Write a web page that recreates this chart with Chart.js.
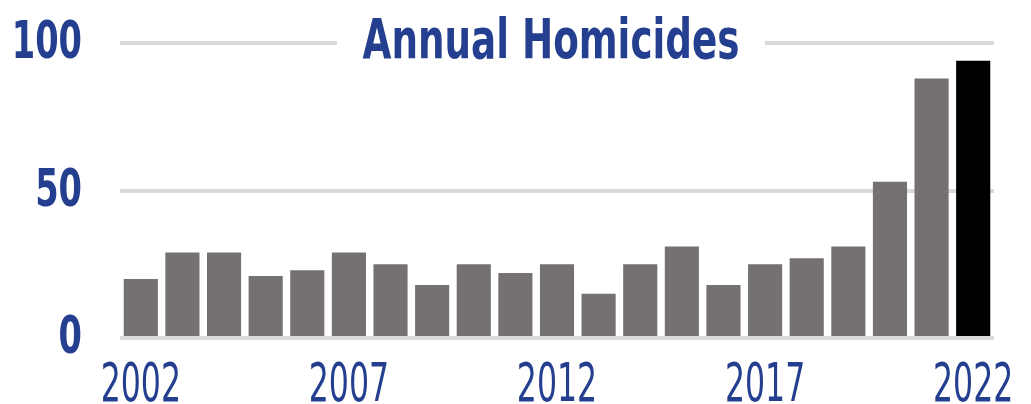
<!DOCTYPE html>
<html>
<head>
<meta charset="utf-8">
<script src="https://cdn.jsdelivr.net/npm/chart.js@4/dist/chart.umd.min.js"></script>
<style>
html,body{margin:0;padding:0;background:#fff;}
#wrap{width:1031px;height:404px;position:relative;}
</style>
</head>
<body>
<div id="wrap"><canvas id="c"></canvas></div>
<script>
const years = ["2002","2003","2004","2005","2006","2007","2008","2009","2010","2011","2012","2013","2014","2015","2016","2017","2018","2019","2020","2021","2022"];
const homicides = [20,29,29,21,23,29,25,18,25,22,25,15,25,31,18,25,27,31,53,88,94];
const yTicks = [0,50,100];
const xLabelEvery = 5;
const titleText = "Annual Homicides";

const BLUE = "#243f8f";
const CONDENSED = "'DejaVu Sans Condensed','DejaVu Sans',sans-serif";

const barColors = years.map((y,i)=> i===years.length-1 ? "#000000" : "#767171");

function drawNarrow(ctx, text, x, y, align, sx, font, color){
  ctx.save();
  ctx.font = font;
  ctx.fillStyle = color;
  ctx.textAlign = align;
  ctx.textBaseline = 'alphabetic';
  ctx.translate(x, y);
  ctx.scale(sx, 1);
  ctx.fillText(text, 0, 0);
  ctx.restore();
}

const labelPlugin = {
  id: 'narrowLabels',
  afterDraw(chart){
    const ctx = chart.ctx;
    const ca = chart.chartArea;
    const ys = chart.scales.y, xs = chart.scales.x;
    // y tick labels
    yTicks.forEach(v=>{
      const py = ys.getPixelForValue(v);
      drawNarrow(ctx, String(v), 82, py + 15, 'right', 0.72, "bold 52px " + CONDENSED, BLUE);
    });
    // x tick labels
    years.forEach((lab,i)=>{
      if (i % xLabelEvery !== 0) return;
      drawNarrow(ctx, lab, xs.getPixelForTick(i), 401, 'center', 0.65, "54px " + CONDENSED, BLUE);
    });
    // inline title over the top gridline
    const yTop = ys.getPixelForValue(100);
    ctx.save();
    ctx.fillStyle = "#ffffff";
    ctx.fillRect(337, yTop - 8, 428, 16);
    ctx.restore();
    drawNarrow(ctx, titleText, 551, 58, 'center', 0.74, "bold 56px " + CONDENSED, BLUE);
  }
};

new Chart(document.getElementById('c'), {
  type: 'bar',
  data: {
    labels: years,
    datasets: [{
      data: homicides,
      backgroundColor: barColors,
      borderWidth: 0,
      barPercentage: 0.82,
      categoryPercentage: 1.0
    }]
  },
  options: {
    responsive: true,
    maintainAspectRatio: false,
    animation: false,
    layout: { padding: { top: 43, right: 37, bottom: 0, left: 0 } },
    plugins: { legend: { display: false }, tooltip: { enabled: false } },
    scales: {
      x: {
        offset: true,
        afterFit(scale){ scale.height = 66; },
        grid: { display: false },
        border: { display: false },
        ticks: { display: false, autoSkip: false }
      },
      y: {
        min: 0, max: 100,
        afterFit(scale){ scale.width = 120; },
        afterBuildTicks(scale){ scale.ticks = yTicks.map(v=>({value:v})); },
        grid: { color: "#d9d9d9", lineWidth: 4, drawTicks: false },
        border: { display: false },
        ticks: { display: false }
      }
    }
  },
  plugins: [labelPlugin]
});
</script>
</body>
</html>
